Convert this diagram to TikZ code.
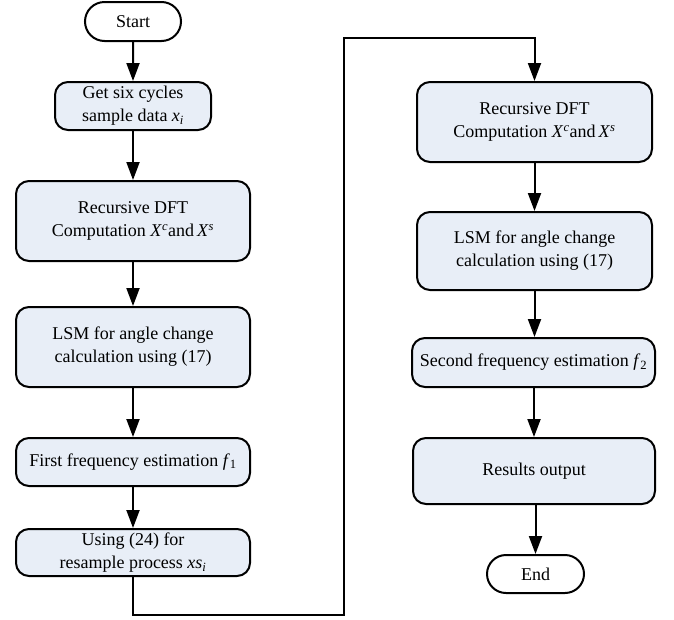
\documentclass[tikz,border=0pt]{standalone}
\usepackage{fontspec}
\setmainfont{Liberation Serif}
\usetikzlibrary{arrows.meta,shapes.misc}
\definecolor{boxfill}{RGB}{232,238,247}
\tikzset{
  x=1pt,y=-1pt,
  proc/.style={draw, line width=2pt, fill=boxfill, rounded corners=13pt, align=center, inner sep=0pt, font=\fontsize{18}{23}\selectfont},
  term/.style={draw, line width=2pt, fill=white, rounded rectangle, align=center, inner sep=0pt, font=\fontsize{18}{23}\selectfont},
  flow/.style={line width=2pt, -{Triangle[length=18pt,width=13pt]}},
}
\newcommand{\vx}[2]{\textit{#1}\textsubscript{#2}}
\begin{document}
\begin{tikzpicture}
\useasboundingbox (0,0) rectangle (674,619);
\node[term, minimum width=96pt, minimum height=39pt] (start) at (133,21.5) {Start};
\node[proc, minimum width=156pt, minimum height=48pt] (get) at (133,106) {Get six cycles\\sample data \vx{x}{\textit{i}}};
\node[proc, minimum width=234pt, minimum height=80pt] (dft1) at (133,221) {Recursive DFT\\Computation \textit{X}\textsuperscript{\textit{c}}and\,\textit{X}\textsuperscript{\textit{s}}};
\node[proc, minimum width=234pt, minimum height=80pt] (lsm1) at (133,347) {LSM for angle change\\calculation using (17)};
\node[proc, minimum width=234pt, minimum height=48pt] (f1) at (133,462) {First frequency estimation \vx{f}{1}};
\node[proc, minimum width=234pt, minimum height=47pt] (res) at (133,552.5) {Using (24) for\\resample process \textit{xs}\textsubscript{\textit{i}}};
\node[proc, minimum width=235pt, minimum height=80pt] (dft2) at (534.5,122) {Recursive DFT\\Computation \textit{X}\textsuperscript{\textit{c}}and\,\textit{X}\textsuperscript{\textit{s}}};
\node[proc, minimum width=235pt, minimum height=78pt] (lsm2) at (534.5,251) {LSM for angle change\\calculation using (17)};
\node[proc, minimum width=243pt, minimum height=49pt] (f2) at (533.5,362.5) {Second frequency estimation \vx{f}{2}};
\node[proc, minimum width=242pt, minimum height=66pt] (out) at (534,471) {Results output};
\node[term, minimum width=97pt, minimum height=38pt] (end) at (535.5,574) {End};
\coordinate (c1) at (133,615);
\coordinate (c2) at (344,615);
\coordinate (c3) at (344,38);
\coordinate (c4) at (534.5,38);
\draw[flow] (start) -- (get);
\draw[flow] (get) -- (dft1);
\draw[flow] (dft1) -- (lsm1);
\draw[flow] (lsm1) -- (f1);
\draw[flow] (f1) -- (res);
\draw[flow] (res.south) -- (c1) -- (c2) -- (c3) -- (c4) -- (dft2.north);
\draw[flow] (dft2) -- (lsm2);
\draw[flow] (lsm2) -- (lsm2 |- f2.north);
\draw[flow] (f2.south -| out.north) -- (out);
\draw[flow] (out.south -| end.north) -- (end);
\end{tikzpicture}
\end{document}
